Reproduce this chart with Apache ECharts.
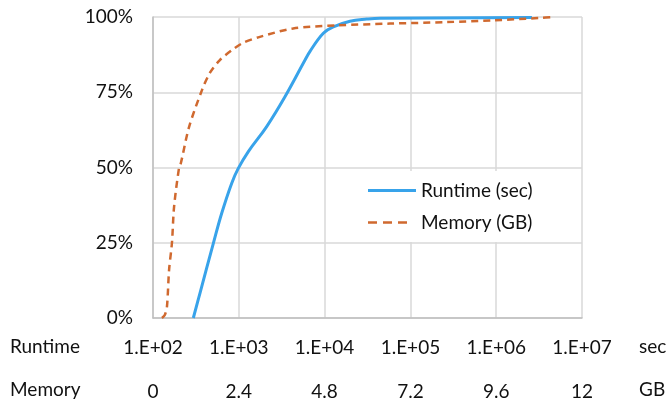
<!DOCTYPE html>
<html>
<head>
<meta charset="utf-8">
<script src="https://cdn.jsdelivr.net/npm/echarts@6/dist/echarts.min.js"></script>
<style>html,body{margin:0;padding:0;background:#fff}#c{width:668px;height:402px}</style>
</head>
<body>
<div id="c"></div>
<script>
// Runtime CDF (seconds, cumulative %)
var runtimeSec = [295, 353, 505, 632, 827, 986, 1291, 2113, 3451, 5916, 6760, 9660, 12620, 19770, 30970, 44250, 2610000];
var runtimePct = [0, 8.3, 24.8, 34.8, 44.8, 49.7, 55.3, 63.6, 73.5, 85.7, 88.6, 94.6, 96.7, 98.6, 99.3, 99.6, 99.8];
// Memory CDF (GB, cumulative %)
var memoryGB = [0.25, 0.33, 0.39, 0.45, 0.53, 0.59, 0.73, 0.78, 1.01, 1.37, 1.59, 1.87, 2.21, 2.52, 2.99, 3.92, 5.15, 6.63, 8.22, 9.51, 10.83, 11.19];
var memoryPct = [0, 1, 3.7, 16, 25, 37, 50, 51.5, 63.5, 75.7, 81.4, 85.7, 89, 91.4, 93.4, 96.2, 97.2, 97.8, 98.3, 98.9, 99.7, 100];
var seriesNames = ['Runtime (sec)', 'Memory (GB)'];
var runtimeRange = [100, 10000000];
var memoryTicks = [0, 2.4, 4.8, 7.2, 9.6, 12];
var yTicks = [0, 25, 50, 75, 100];
var rowNames = ['Runtime', 'Memory'];
var units = ['sec', 'GB'];

function zip(a, b) { return a.map(function (v, i) { return [v, b[i]]; }); }

var FONT = 'Lato';
var FS = 19;
var TC = '#111';
var BLUE = '#38A3EA';
var ORANGE = '#D0692F';
// legend icons: solid bar and three dashes (last move/line only extends the box to full width)
var ICON_SOLID = 'path://M0,0h48v3h-48z';
var ICON_DASH = 'path://M0,0.25h9v2.5h-9zM15,0.25h9v2.5h-9zM30,0.25h9v2.5h-9zM48,0L48,3';

var chart = echarts.init(document.getElementById('c'));
chart.setOption({
  animation: false,
  backgroundColor: '#fff',
  grid: { left: 153, right: 86, top: 17, bottom: 84, containLabel: false },
  xAxis: [
    {
      type: 'log', logBase: 10, min: runtimeRange[0], max: runtimeRange[1],
      position: 'bottom',
      axisLine: { show: true, lineStyle: { color: '#BFBFBF', width: 1.5 } },
      axisTick: { show: false },
      splitLine: { show: true, lineStyle: { color: '#D9D9D9', width: 1.5 } },
      axisLabel: {
        margin: 20, fontFamily: FONT, fontSize: FS, color: TC,
        formatter: function (v) {
          var e = Math.round(Math.log10(v));
          return '1.E+' + (e < 10 ? '0' : '') + e;
        }
      }
    },
    {
      type: 'value', min: memoryTicks[0], max: memoryTicks[memoryTicks.length - 1], interval: 2.4,
      position: 'bottom', offset: 44,
      axisLine: { show: false }, axisTick: { show: false }, splitLine: { show: false },
      axisLabel: {
        margin: 20, fontFamily: FONT, fontSize: FS, color: TC,
        formatter: function (v) { return String(Math.round(v * 10) / 10); }
      }
    }
  ],
  yAxis: {
    type: 'value', min: yTicks[0], max: yTicks[yTicks.length - 1], interval: 25,
    axisLine: { show: true, lineStyle: { color: '#BFBFBF', width: 1.5 } },
    axisTick: { show: false },
    splitLine: { show: true, lineStyle: { color: '#D9D9D9', width: 1.5 } },
    axisLabel: { margin: 20, fontFamily: FONT, fontSize: FS, color: TC, formatter: '{value}%' }
  },
  legend: {
    orient: 'vertical', left: 358, top: 171,
    backgroundColor: '#fff', padding: [10, 10, 10, 10],
    itemWidth: 48, itemHeight: 3, itemGap: 13, symbolKeepAspect: false,
    textStyle: { fontFamily: FONT, fontSize: FS, color: TC },
    data: [
      { name: seriesNames[0], icon: ICON_SOLID, itemStyle: { color: BLUE, opacity: 1, borderWidth: 0 } },
      { name: seriesNames[1], icon: ICON_DASH, itemStyle: { color: ORANGE, opacity: 1, borderWidth: 0 } }
    ]
  },
  series: [
    {
      name: seriesNames[0], type: 'line', xAxisIndex: 0, smooth: 0.4, symbol: 'none',
      lineStyle: { color: BLUE, width: 3 }, itemStyle: { color: BLUE },
      data: zip(runtimeSec, runtimePct)
    },
    {
      name: seriesNames[1], type: 'line', xAxisIndex: 1, smooth: 0.3, symbol: 'none',
      lineStyle: { color: ORANGE, width: 2.5, type: [7, 5] }, itemStyle: { color: ORANGE },
      data: zip(memoryGB, memoryPct)
    }
  ],
  graphic: [
    { type: 'text', left: 10, top: 337, style: { text: rowNames[0], font: FS + 'px Lato', fill: TC } },
    { type: 'text', left: 10, top: 380, style: { text: rowNames[1], font: FS + 'px Lato', fill: TC } },
    { type: 'text', left: 639, top: 337, style: { text: units[0], font: FS + 'px Lato', fill: TC } },
    { type: 'text', left: 639, top: 380, style: { text: units[1], font: FS + 'px Lato', fill: TC } }
  ]
});
</script>
</body>
</html>
